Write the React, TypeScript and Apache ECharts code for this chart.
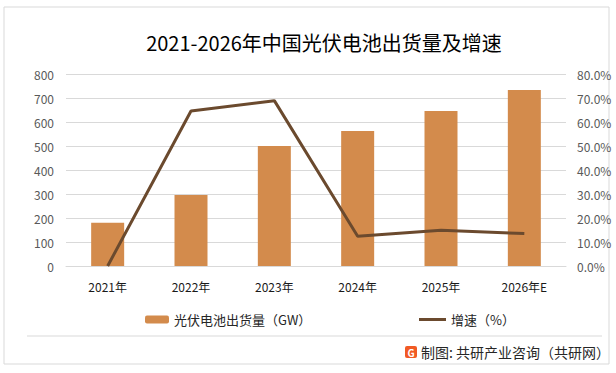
import React, { useEffect, useRef } from "react";
import * as echarts from "echarts";

const categories = ["2021年", "2022年", "2023年", "2024年", "2025年", "2026年E"];
const shipments = [180, 296, 500, 562, 646, 733];
const growthRates = [0, 64.6, 68.9, 12.4, 14.9, 13.5];
const leftTicks = [0, 800, 100];
const rightTicks = [0, 80, 10];

const barName = "光伏电池出货量（GW）";
const lineName = "增速（%）";
const titleText = "2021-2026年中国光伏电池出货量及增速";
const footerText = "制图: 共研产业咨询（共研网）";

const FONT = "'Noto Sans CJK SC', 'Open Sans', sans-serif";

export default function App() {
  const ref = useRef<HTMLDivElement>(null);
  useEffect(() => {
    if (!ref.current) return;
    const chart = echarts.init(ref.current, undefined, { renderer: "svg" });
    chart.setOption({
      animation: false,
      backgroundColor: "#ffffff",
      textStyle: { fontFamily: FONT },
      grid: { left: 66, right: 50, top: 74, bottom: 107 },
      legend: [
        {
          data: [barName],
          left: 140,
          top: 308,
          itemWidth: 24,
          itemHeight: 8,
          itemGap: 5,
          textStyle: { fontSize: 13, color: "#262626", fontFamily: FONT },
        },
        {
          data: [{ name: lineName, icon: "rect" }],
          left: 414,
          top: 308,
          itemWidth: 27,
          itemHeight: 3,
          textStyle: { fontSize: 13, color: "#262626", fontFamily: FONT },
        },
      ],
      xAxis: {
        type: "category",
        data: categories,
        axisLine: { lineStyle: { color: "#d9d9d9" } },
        axisTick: { show: false },
        axisLabel: { color: "#1a1a1a", fontSize: 12, margin: 14, fontFamily: FONT },
      },
      yAxis: [
        {
          type: "value",
          min: leftTicks[0],
          max: leftTicks[1],
          interval: leftTicks[2],
          axisLine: { show: false },
          axisTick: { show: false },
          axisLabel: { color: "#595959", fontSize: 12, margin: 12, fontFamily: FONT },
          splitLine: { lineStyle: { color: "#d9d9d9", width: 1 } },
        },
        {
          type: "value",
          min: rightTicks[0],
          max: rightTicks[1],
          interval: rightTicks[2],
          axisLine: { show: false },
          axisTick: { show: false },
          axisLabel: {
            color: "#595959",
            fontSize: 12,
            margin: 11,
            fontFamily: FONT,
            formatter: (v: number) => v.toFixed(1) + "%",
          },
          splitLine: { show: false },
        },
      ],
      series: [
        {
          name: barName,
          type: "bar",
          data: shipments,
          barWidth: 33,
          itemStyle: { color: "#D38B4C" },
        },
        {
          name: lineName,
          type: "line",
          yAxisIndex: 1,
          data: growthRates,
          showSymbol: false,
          symbol: "none",
          lineStyle: { color: "#6B4A2E", width: 3 },
          itemStyle: { color: "#6B4A2E" },
        },
      ],
      graphic: [
        {
          type: "rect",
          shape: { x: 4, y: 7, width: 605, height: 357 },
          style: { fill: "none", stroke: "#d9d9d9", lineWidth: 1 },
          silent: true,
        },
        {
          type: "text",
          x: 324,
          y: 42,
          style: {
            text: titleText,
            fontSize: 20,
            fontFamily: FONT,
            fill: "#000000",
            textAlign: "center",
            textVerticalAlign: "middle",
          },
        },
        {
          type: "line",
          shape: { x1: 27, y1: 336, x2: 602, y2: 336 },
          style: { stroke: "#d9d9d9", lineWidth: 1 },
        },
        {
          type: "rect",
          shape: { x: 405, y: 346, width: 12, height: 12, r: 2 },
          style: { fill: "#F15A24" },
        },
        {
          type: "text",
          x: 411,
          y: 352.5,
          style: {
            text: "G",
            fontSize: 10,
            fontWeight: "bold",
            fontFamily: FONT,
            fill: "#ffffff",
            textAlign: "center",
            textVerticalAlign: "middle",
          },
        },
        {
          type: "text",
          x: 421,
          y: 352,
          style: {
            text: footerText,
            fontSize: 14,
            fontFamily: FONT,
            fill: "#262626",
            textAlign: "left",
            textVerticalAlign: "middle",
          },
        },
      ],
    });
    return () => chart.dispose();
  }, []);
  return (
    <div
      ref={ref}
      style={{ position: "absolute", left: 0, top: 0, width: 616, height: 373 }}
    />
  );
}
